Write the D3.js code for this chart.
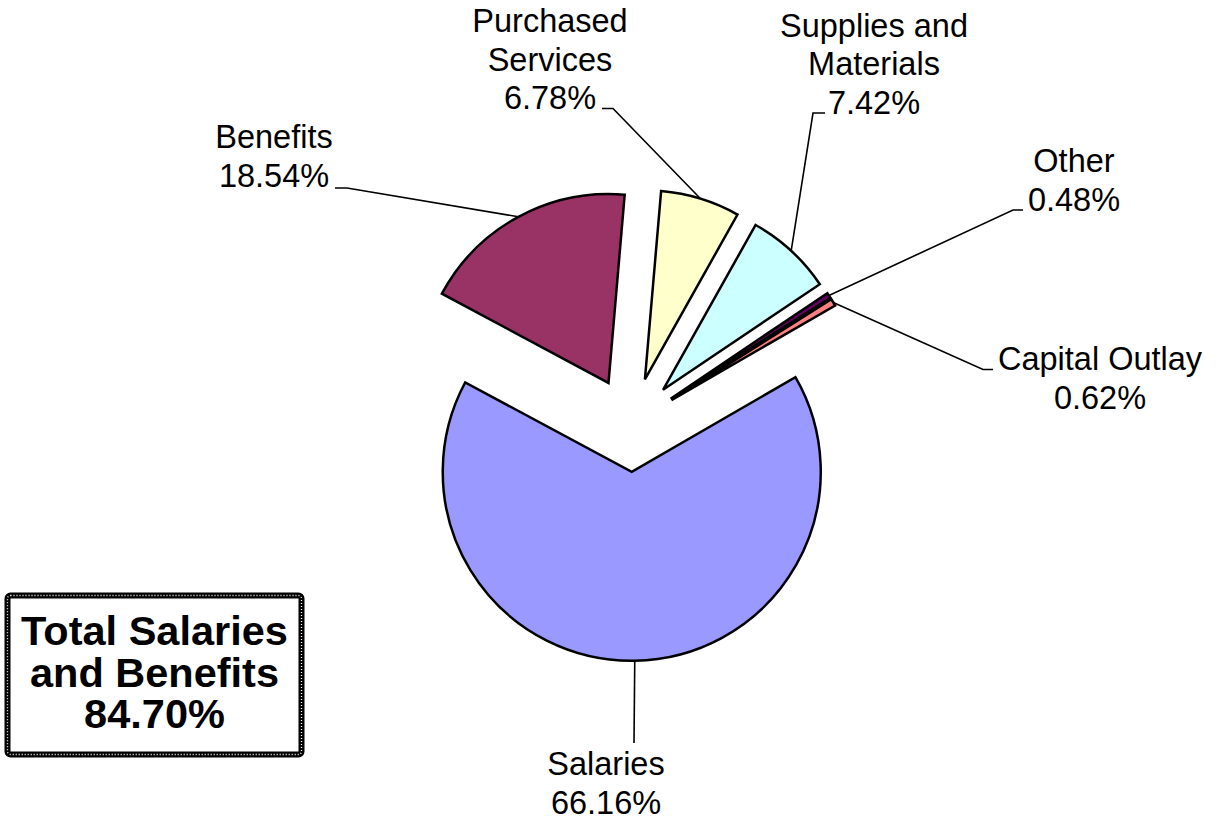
<!DOCTYPE html>
<html>
<head>
<meta charset="utf-8">
<script src="https://cdn.jsdelivr.net/npm/d3@7"></script>
<style>
  body { margin: 0; background: #fff; }
  svg { display: block; }
  .lab { font-family: "Liberation Sans", Arial, sans-serif; font-size: 32.5px; fill: #000; }
  .box { font-family: "Liberation Sans", Arial, sans-serif; font-size: 41.5px; font-weight: bold; fill: #000; }
</style>
</head>
<body>
<svg id="chart" width="1216" height="821"></svg>
<script>
// data
let categories = ['Salaries', 'Benefits', 'Purchased Services', 'Supplies and Materials', 'Other', 'Capital Outlay'];
let values = [66.16, 18.54, 6.78, 7.42, 0.48, 0.62];
let colors = ['#9999FF', '#993366', '#FFFFCC', '#CCFFFF', '#660066', '#FF8080'];
let labelLines = [['Salaries'], ['Benefits'], ['Purchased', 'Services'], ['Supplies and', 'Materials'], ['Other'], ['Capital Outlay']];
let totalLines = ['Total Salaries', 'and Benefits', '84.70%'];

// layout
let width = 1216, height = 821;
let cx = 631, cy = 424.5, radius = 189, explode = 0.25;
let lineStep = 38.5;
// label anchor (text centre x, first baseline y) and leader elbow (elbow x, y, end x)
let labelLayout = {
    'Salaries':               {x: 606,  y: 775,  leader: [634, 743, 634]},
    'Benefits':               {x: 274,  y: 148,  leader: [347, 188, 335]},
    'Purchased Services':     {x: 550,  y: 32,   leader: [613, 108.5, 602]},
    'Supplies and Materials': {x: 874,  y: 36.5, leader: [813, 113, 825]},
    'Other':                  {x: 1074, y: 172,  leader: [1013, 210, 1023]},
    'Capital Outlay':         {x: 1100, y: 370,  leader: [983, 369.5, 993]}
};

let svg = d3.select('#chart');
svg.append('rect').attr('width', width).attr('height', height).attr('fill', '#fff');

let pie = d3.pie().sort(null).value(d => d)
    .startAngle(60 * Math.PI / 180)
    .endAngle(420 * Math.PI / 180);
let arcs = pie(values);
let arc = d3.arc().innerRadius(0).outerRadius(radius);
let fmt = d3.format('.2f');

let g = svg.append('g').attr('transform', 'translate(' + cx + ',' + cy + ')');

arcs.forEach((a, i) => {
    let mid = (a.startAngle + a.endAngle) / 2;
    let ox = Math.sin(mid) * radius * explode;
    let oy = -Math.cos(mid) * radius * explode;
    a.offset = [ox, oy];
    a.edge = [ox + Math.sin(mid) * radius, oy - Math.cos(mid) * radius];

    g.append('path')
        .datum(a)
        .attr('transform', 'translate(' + ox + ',' + oy + ')')
        .attr('d', arc)
        .attr('fill', colors[i])
        .attr('stroke', '#000')
        .attr('stroke-width', 2.5)
        .attr('stroke-linejoin', 'miter');
});

// leader lines + labels
arcs.forEach((a, i) => {
    let name = categories[i];
    let lay = labelLayout[name];
    let p0 = [cx + a.edge[0], cy + a.edge[1]];
    svg.append('path')
        .attr('d', d3.line()([p0, [lay.leader[0], lay.leader[1]], [lay.leader[2], lay.leader[1]]]))
        .attr('fill', 'none')
        .attr('stroke', '#000')
        .attr('stroke-width', 1.6);

    let lines = labelLines[i].concat([fmt(values[i]) + '%']);
    let t = svg.append('text')
        .attr('class', 'lab')
        .attr('text-anchor', 'middle');
    lines.forEach((s, k) => {
        t.append('tspan')
            .attr('x', lay.x)
            .attr('y', lay.y + k * lineStep)
            .text(s);
    });
});

// total box
let box = {x: 7.5, y: 595.5, w: 294, h: 159};
svg.append('rect')
    .attr('x', box.x).attr('y', box.y).attr('width', box.w).attr('height', box.h)
    .attr('rx', 3).attr('ry', 3)
    .attr('fill', '#fff')
    .attr('stroke', '#000')
    .attr('stroke-width', 6);
svg.append('rect')
    .attr('x', box.x).attr('y', box.y).attr('width', box.w).attr('height', box.h)
    .attr('rx', 3).attr('ry', 3)
    .attr('fill', 'none')
    .attr('stroke', '#fff')
    .attr('stroke-width', 1.3)
    .attr('stroke-dasharray', '1 2');

let bt = svg.append('text').attr('class', 'box').attr('text-anchor', 'middle');
totalLines.forEach((s, k) => {
    bt.append('tspan')
        .attr('x', box.x + box.w / 2)
        .attr('y', 645 + k * 41.5)
        .text(s);
});
</script>
</body>
</html>
